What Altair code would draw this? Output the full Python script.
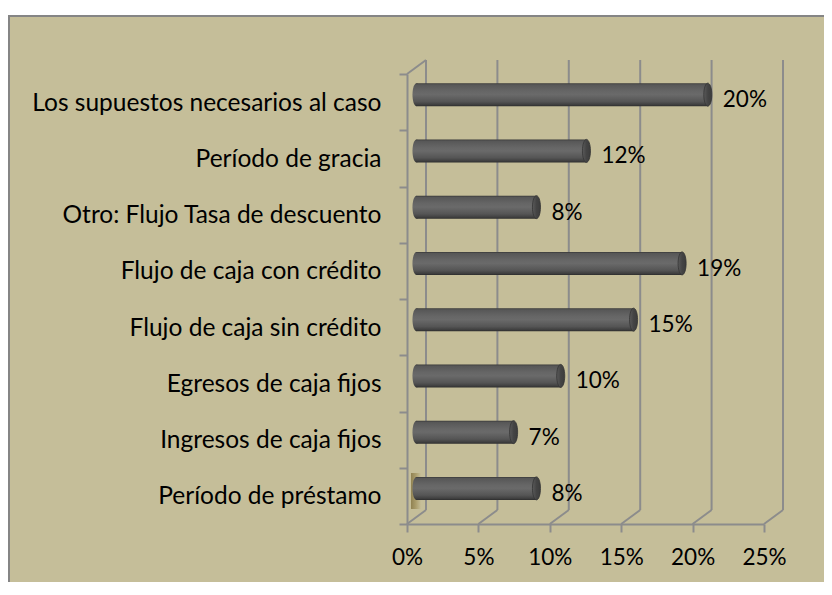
import altair as alt
import pandas as pd

# ---- data ----
categories = [
    "Los supuestos necesarios al caso",
    "Período de gracia",
    "Otro: Flujo Tasa de descuento",
    "Flujo de caja con crédito",
    "Flujo de caja sin crédito",
    "Egresos de caja fijos",
    "Ingresos de caja fijos",
    "Período de préstamo",
]
values = [0.204, 0.119, 0.084, 0.186, 0.152, 0.101, 0.068, 0.084]
ticks = [0.0, 0.05, 0.10, 0.15, 0.20, 0.25]

df = pd.DataFrame({"category": categories, "value": values})
df_ticks = pd.DataFrame({"tick": ticks})
df_one = pd.DataFrame({"a": [0]})

# ---- layout / style ----
W, H = 357, 450
DX, DY = 19, -14          # depth offset of the 3D back wall
MX, MY = DX / 2, -7.5     # bars sit in the middle depth plane
GRID = "#8C8C8C"
BG = "#C5BE99"
FONT = "Lato"
FS_CAT = 24.5
FS_NUM = 22.5

xscale = alt.Scale(domain=[0, 0.25], nice=False, zero=True)
yscale = alt.Scale(paddingInner=0, paddingOuter=0)

body_grad = alt.Gradient(
    gradient="linear", x1=0, x2=0, y1=0, y2=1,
    stops=[
        alt.GradientStop(color="#363636", offset=0),
        alt.GradientStop(color="#575757", offset=0.07),
        alt.GradientStop(color="#666666", offset=0.35),
        alt.GradientStop(color="#6a6a6a", offset=0.5),
        alt.GradientStop(color="#555555", offset=0.8),
        alt.GradientStop(color="#3f3f3f", offset=0.94),
        alt.GradientStop(color="#2e2e2e", offset=1),
    ],
)
cap_grad = alt.Gradient(
    gradient="linear", x1=0, x2=1, y1=0, y2=0,
    stops=[
        alt.GradientStop(color="#5a5a5a", offset=0),
        alt.GradientStop(color="#444444", offset=0.5),
        alt.GradientStop(color="#3c3c3c", offset=1),
    ],
)
shadow_grad = alt.Gradient(
    gradient="linear", x1=0, x2=1, y1=0, y2=0,
    stops=[
        alt.GradientStop(color="#8a7b4a", offset=0),
        alt.GradientStop(color="#a89a68", offset=0.5),
        alt.GradientStop(color=BG, offset=1),
    ],
)
ELLIPSE = "M0,-1A0.35,1,0,1,1,0,1A0.35,1,0,1,1,0,-1Z"

x_axis = alt.Axis(
    values=ticks, format=".0%", title=None, grid=False,
    domainColor=GRID, domainWidth=2, tickColor=GRID, tickWidth=2, tickSize=8,
    labelFont=FONT, labelFontSize=FS_NUM, labelColor="black", labelPadding=14,
    labelFlush=False, zindex=1,
)
y_axis = alt.Axis(
    title=None, grid=False, domainColor=GRID, domainWidth=2,
    tickColor=GRID, tickWidth=2, tickSize=8, tickBand="extent",
    labelFont=FONT, labelFontSize=FS_CAT, labelColor="black", labelPadding=18,
    labelLimit=500, labelOffset=1, zindex=1,
)

x_val = alt.X("value:Q", scale=xscale, axis=x_axis, title=None)
x_tick = alt.X("tick:Q", scale=xscale, axis=x_axis, title=None)
y_enc = alt.Y("category:N", sort=categories, scale=yscale, axis=y_axis, title=None)

background = alt.Chart(df_one).mark_rect(
    fill=BG, stroke="#858585", strokeWidth=2
).encode(
    x=alt.value(-398), x2=alt.value(W + 300),
    y=alt.value(-58), y2=alt.value(H + 300),
)

floor_shadow = alt.Chart(df_one).mark_rect(
    fill=shadow_grad, opacity=0.9
).encode(
    x=alt.value(4), x2=alt.value(14),
    y=alt.value(H - 51), y2=alt.value(H - 15),
)

back_grid = alt.Chart(df_ticks).mark_rule(
    color=GRID, strokeWidth=2, xOffset=DX
).encode(
    x=x_tick,
    y=alt.value(DY), y2=alt.value(H + DY),
)

floor_diag = alt.Chart(df_ticks).mark_rule(
    color=GRID, strokeWidth=2, x2Offset=DX
).encode(
    x=x_tick,
    x2=alt.X2("tick:Q"),
    y=alt.value(H), y2=alt.value(H + DY),
)

top_diag = alt.Chart(df_one).mark_rule(color=GRID, strokeWidth=2).encode(
    x=alt.value(0), x2=alt.value(DX), y=alt.value(0), y2=alt.value(DY)
)

bars = alt.Chart(df).mark_bar(
    height=23, fill=body_grad, strokeWidth=0,
    xOffset=MX, x2Offset=MX, yOffset=MY,
).encode(
    x=x_val,
    x2=alt.datum(0),
    y=y_enc,
)

left_end = alt.Chart(df).mark_point(
    shape=ELLIPSE, size=529, filled=True, fill=body_grad, strokeWidth=0,
    opacity=1, xOffset=MX, yOffset=MY,
).encode(
    x=alt.datum(0),
    y=y_enc,
)

caps = alt.Chart(df).mark_point(
    shape=ELLIPSE, size=529, filled=True, fill=cap_grad,
    stroke="#333333", strokeWidth=0.8, opacity=1, xOffset=MX, yOffset=MY,
).encode(
    x=x_val,
    y=y_enc,
)

labels = alt.Chart(df).transform_calculate(
    label="format(datum.value, '.0%')"
).mark_text(
    align="left", baseline="middle", font=FONT, fontSize=FS_NUM, color="black",
    xOffset=MX + 4 + 11, yOffset=-2,
).encode(
    x=x_val,
    y=y_enc,
    text="label:N",
)

chart = alt.layer(
    background, floor_shadow, back_grid, floor_diag, top_diag,
    bars, left_end, caps, labels
).properties(
    width=W, height=H,
    autosize=alt.AutoSizeParams(type="none"),
    padding={"left": 399, "top": 66, "right": 60, "bottom": 58},
    background="white",
).configure_view(strokeWidth=0)

chart.save("out.html", embed_options={"renderer": "svg", "actions": False})
